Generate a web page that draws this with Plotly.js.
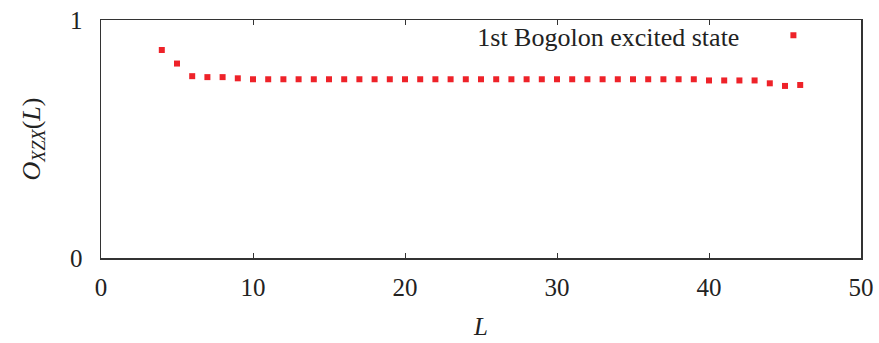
<!DOCTYPE html>
<html>
<head>
<meta charset="utf-8">
<script src="https://cdn.plot.ly/plotly-3.0.1.min.js"></script>
<style>html,body{margin:0;padding:0;background:#fff;}#chart{width:879px;height:343px;}</style>
</head>
<body>
<div id="chart"></div>
<script>
const L = [4,5,6,7,8,9,10,11,12,13,14,15,16,17,18,19,20,21,22,23,24,25,26,27,28,29,30,31,32,33,34,35,36,37,38,39,40,41,42,43,44,45,46];
const O_XZX = [0.874,0.817,0.764,0.760,0.760,0.755,0.751,0.751,0.751,0.751,0.751,0.751,0.751,0.751,0.751,0.751,0.751,0.751,0.751,0.751,0.751,0.751,0.751,0.751,0.751,0.751,0.751,0.751,0.751,0.751,0.751,0.751,0.751,0.751,0.751,0.751,0.746,0.746,0.746,0.746,0.734,0.723,0.727];
const seriesName = "1st Bogolon excited state";
const xTicks = [0,10,20,30,40,50];
const yTicks = [0,1];

const fam = "Liberation Serif, Times New Roman, serif";
const font = {family: fam, size: 25, color: "#222"};
const legFont = {family: fam, size: 26, color: "#222"};

Plotly.newPlot("chart", [{
  x: L, y: O_XZX, type: "scatter", mode: "markers", name: " ",
  marker: {symbol: "square", size: 6, color: "#ee2229"},
  showlegend: true
}], {
  width: 879, height: 343,
  margin: {l: 101, r: 18, t: 14, b: 85},
  paper_bgcolor: "#fff", plot_bgcolor: "#fff",
  font: font,
  showlegend: true,
  legend: {
    x: 0.953, y: 1.034, xanchor: "right", yanchor: "top",
    bgcolor: "rgba(0,0,0,0)",
    title: {text: seriesName + "&nbsp;&nbsp;&nbsp;&nbsp;", side: "left", font: legFont},
    font: legFont, itemwidth: 30
  },
  xaxis: {
    range: [0, 50], tickvals: xTicks, ticks: "inside", ticklen: 5, tickwidth: 1,
    tickcolor: "#333", showline: true, linecolor: "#333", linewidth: 1.5, mirror: "ticks",
    showgrid: false, zeroline: false, tickfont: font, ticklabelstandoff: 6,
    title: {text: "<i>L</i>", font: font, standoff: 18}
  },
  yaxis: {
    range: [0, 1], tickvals: yTicks, ticks: "", showline: true, linecolor: "#333",
    linewidth: 1.5, mirror: true, showgrid: false, zeroline: false, tickfont: font,
    ticklabelstandoff: 12,
    title: {text: "<i>O</i><sub><i>XZX</i></sub>(<i>L</i>)", font: legFont, standoff: 22}
  }
}, {staticPlot: true, displayModeBar: false});
</script>
</body>
</html>
